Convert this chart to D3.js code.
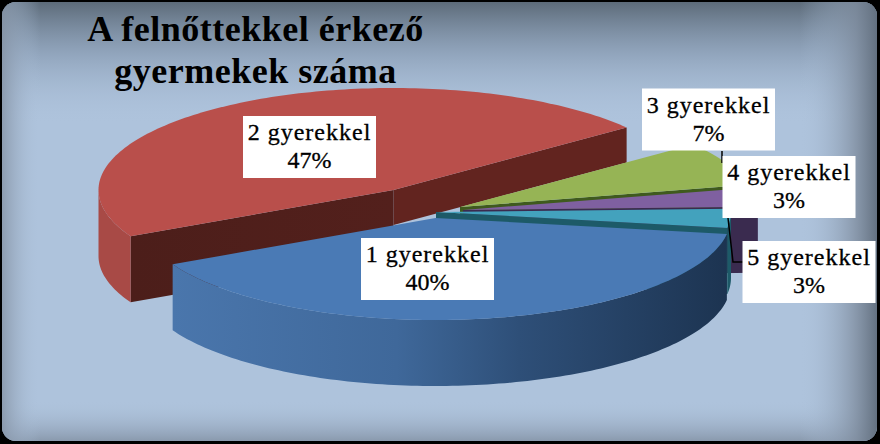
<!DOCTYPE html>
<html>
<head>
<meta charset="utf-8">
<style>
html, body { margin: 0; padding: 0; background: #000; }
svg { display: block; }
text { font-family: "Liberation Serif", serif; fill: #000; }
</style>
<script src="https://cdn.jsdelivr.net/npm/d3@7"></script>
</head>
<body>
<svg id="chart" width="880" height="444"></svg>
<script>
var categories = ["1 gyerekkel", "2 gyerekkel", "3 gyerekkel", "4 gyerekkel", "5 gyerekkel"];
var shares = [40, 47, 7, 3, 3];
var titleLines = ["A felnőttekkel érkező", "gyermekek száma"];
var topColors = ["#4a7ab5", "#b94f4b", "#96b455", "#7f60a0", "#43a2bd"];
var wallColors = ["#2c4c74", "#a84a46", "#3f5a1e", "#3a2b4f", "#1d5a68"];

(function () {
    "use strict";
    var svg = d3.select("#chart"),
        defs = svg.append("defs"),
        RX = 295,
        RY = 102,
        DEPTH = 66,
        BACK_DEPTH = 35,
        // exploded centre of each slice
        centres = [[435.5, 218], [393.5, 190], [460, 207], [463, 210], [436, 212]],
        // painter's order, back to front
        order = [1, 2, 3, 4, 0],
        boxes = [[427.5, 269], [309.5, 147], [708.5, 119.5], [789, 187], [809, 272]],
        pie = d3.pie().sort(null)
            .startAngle((9 + 90) * Math.PI / 180)
            .endAngle((9 + 90 + 360) * Math.PI / 180),
        slices = pie(shares),
        line = d3.line();

    function addLinear(id, x1, y1, x2, y2, stops) {
        var g = defs.append("linearGradient").attr("id", id)
            .attr("gradientUnits", "userSpaceOnUse")
            .attr("x1", x1).attr("y1", y1).attr("x2", x2).attr("y2", y2);
        stops.forEach(function (s) {
            g.append("stop").attr("offset", s[0]).attr("stop-color", s[1]).attr("stop-opacity", s[2]);
        });
    }

    // screen angle: d3 measures from 12 o'clock, the ellipse from 3 o'clock
    function pt(c, a, dy) {
        var t = a - Math.PI / 2;
        return [c[0] + RX * Math.cos(t), c[1] + RY * Math.sin(t) + (dy || 0)];
    }

    function arcPoints(c, a0, a1, dy) {
        var n = Math.max(2, Math.ceil(Math.abs(a1 - a0) / 0.02)),
            pts = [], i;
        for (i = 0; i <= n; i += 1) {
            pts.push(pt(c, a0 + (a1 - a0) * i / n, dy));
        }
        return pts;
    }

    // background
    addLinear("bgTop", 0, 0, 0, 125, [[0, "#5a6876", 1], [0.45, "#8194ab", 0.6], [1, "#aec3dc", 0]]);
    addLinear("bgBottom", 0, 444, 0, 400, [[0, "#8493a6", 1], [1, "#aec3dc", 0]]);
    addLinear("bgRight", 880, 0, 800, 0, [[0, "#5e6b7a", 1], [0.3, "#7f8d9f", 0.8], [1, "#aec3dc", 0]]);
    addLinear("bgLeft", 0, 0, 40, 0, [[0, "#8593a5", 0.9], [1, "#aec3dc", 0]]);
    addLinear("blueWall", 173, 0, 732, 0, [[0, "#4a76ac", 1], [0.4, "#3f689a", 1], [0.62, "#2e4f78", 1], [1, "#1c3350", 1]]);
    addLinear("redBack", 131, 0, 393, 0, [[0, "#4c1e1a", 1], [1, "#53201c", 1]]);

    var clip = defs.append("clipPath").attr("id", "frame");
    clip.append("rect").attr("x", 2).attr("y", 2).attr("width", 875).attr("height", 439).attr("rx", 14);
    var bg = svg.append("g").attr("clip-path", "url(#frame)");
    bg.append("rect").attr("width", 880).attr("height", 444).attr("fill", "#aec3dc");
    ["bgTop", "bgBottom", "bgRight", "bgLeft"].forEach(function (id) {
        bg.append("rect").attr("width", 880).attr("height", 444).attr("fill", "url(#" + id + ")");
    });

    var pieG = svg.append("g");

    order.forEach(function (i) {
        var s = slices[i],
            c = centres[i],
            g = pieG.append("g").attr("class", "slice-" + i),
            wall = i === 0 ? "url(#blueWall)" : wallColors[i],
            a0 = s.startAngle,
            a1 = s.endAngle;

        // radial walls
        if (i === 1) {
            // the back wall of the red slice is shallower than the front one
            g.append("path").attr("fill", "#62241f").attr("d", line([
                c, pt(c, a1), pt(c, a1, BACK_DEPTH), [c[0], c[1] + BACK_DEPTH]
            ]) + "Z");
            g.append("path").attr("fill", "url(#redBack)").attr("d", line([
                c, pt(c, a0), pt(c, a0, DEPTH), [c[0], c[1] + DEPTH]
            ]) + "Z");
        } else if (i !== 0) {
            g.append("path").attr("fill", wall).attr("d", line([
                c, pt(c, a1), pt(c, a1, DEPTH), [c[0], c[1] + DEPTH]
            ]) + "Z");
        }

        // outer wall, only the part turned towards the viewer
        var lo = Math.max(a0, Math.PI / 2),
            hi = Math.min(a1, Math.PI * 1.5);
        if (lo < hi) {
            g.append("path").attr("fill", wall).attr("d",
                line(arcPoints(c, lo, hi).concat(arcPoints(c, hi, lo, DEPTH))) + "Z");
        }
        var lo2 = Math.max(a0, Math.PI * 2.5),
            hi2 = Math.min(a1, Math.PI * 3.5);
        if (lo2 < hi2) {
            g.append("path").attr("fill", wall).attr("d",
                line(arcPoints(c, lo2, hi2).concat(arcPoints(c, hi2, lo2, DEPTH))) + "Z");
        }

        // top face
        g.append("path").attr("fill", topColors[i]).attr("d",
            line([c].concat(arcPoints(c, a0, a1))) + "Z");
    });

    // leader lines
    var leaders = [
        [[722, 151], [722, 163]],
        [[728, 218], [733, 262], [743, 262]]
    ];
    leaders.forEach(function (l) {
        svg.append("path").attr("d", line(l)).attr("fill", "none").attr("stroke", "#000").attr("stroke-width", 1.5);
    });

    // data labels
    categories.forEach(function (name, i) {
        var b = boxes[i],
            g = svg.append("g").attr("transform", "translate(" + b[0] + "," + b[1] + ")");
        g.append("rect").attr("x", -66.5).attr("y", -31).attr("width", 133).attr("height", 62).attr("fill", "#fff");
        g.append("text").attr("text-anchor", "middle").attr("y", -7).attr("font-size", 24)
            .attr("letter-spacing", 1).attr("stroke", "#000").attr("stroke-width", 0.3).text(name);
        g.append("text").attr("text-anchor", "middle").attr("y", 21).attr("font-size", 24)
            .attr("stroke", "#000").attr("stroke-width", 0.3).text(shares[i] + "%");
    });

    // title
    titleLines.forEach(function (t, i) {
        svg.append("text").attr("x", 255.5).attr("y", 41 + i * 42)
            .attr("text-anchor", "middle").attr("font-size", 36).attr("font-weight", "bold")
            .attr("letter-spacing", 0.5).text(t);
    });
}());
</script>
</body>
</html>
